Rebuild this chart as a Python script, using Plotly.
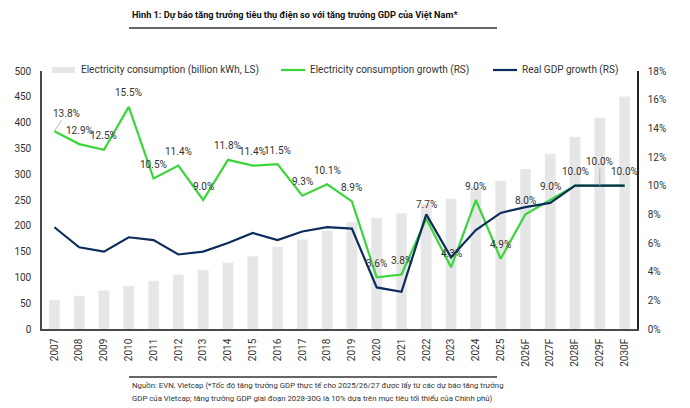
import plotly.graph_objects as go

years = ["2007", "2008", "2009", "2010", "2011", "2012", "2013", "2014", "2015", "2016",
         "2017", "2018", "2019", "2020", "2021", "2022", "2023", "2024", "2025",
         "2026F", "2027F", "2028F", "2029F", "2030F"]
consumption = [56, 64, 74, 83, 93, 105, 114, 128, 141, 159,
               173, 190, 207, 215, 224, 242, 252, 275, 287,
               310, 339, 372, 409, 450]
elec_growth = [13.8, 12.9, 12.5, 15.5, 10.5, 11.4, 9.0, 11.8, 11.4, 11.5,
               9.3, 10.1, 8.9, 3.6, 3.8, 7.7, 4.3, 9.0, 4.9,
               8.0, 9.0, 10.0, 10.0, 10.0]
gdp_growth = [7.1, 5.7, 5.4, 6.4, 6.2, 5.2, 5.4, 6.0, 6.7, 6.2,
              6.8, 7.1, 7.0, 2.9, 2.6, 8.0, 5.0, 6.9, 8.1,
              8.5, 8.8, 10.0, 10.0, 10.0]

title_text = "Hình 1: Dự báo tăng trưởng tiêu thụ điện so với tăng trưởng GDP của Việt Nam*"
footer_1 = "Nguồn: EVN, Vietcap (*Tốc độ tăng trưởng GDP thực tế cho 2025/26/27 được lấy từ các dự báo tăng trưởng"
footer_2 = "GDP của Vietcap; tăng trưởng GDP giai đoạn 2028-30G là 10% dựa trên mục tiêu tối thiểu của Chính phủ)"
legend_names = ["Electricity consumption (billion kWh, LS)",
                "Electricity consumption growth (RS)",
                "Real GDP growth (RS)"]

BAR_C = "#e6e6e6"
GREEN = "#3ad63a"
NAVY = "#0c2c5c"
AXIS_C = "#4a4a4a"
TXT = "#333333"
FONT = "Roboto"

W, H = 690, 408
L, R, T, B = 42, 53, 71, 79
PW, PH = W - L - R, H - T - B


def px(x):
    return (x - L) / PW


def py(y):
    return (H - B - y) / PH


fig = go.Figure()
fig.add_trace(go.Bar(x=years, y=consumption, marker_color=BAR_C, name=legend_names[0],
                     yaxis="y", showlegend=False))
fig.add_trace(go.Scatter(x=years, y=elec_growth, mode="lines", line=dict(color=GREEN, width=2.2),
                         name=legend_names[1], yaxis="y2", showlegend=False))
fig.add_trace(go.Scatter(x=years, y=gdp_growth, mode="lines", line=dict(color=NAVY, width=2.2),
                         name=legend_names[2], yaxis="y2", showlegend=False))

annotations = []
for i, (yr, v) in enumerate(zip(years, elec_growth)):
    a = dict(x=i, y=v, xref="x", yref="y2", text=f"{v:.1f}%",
             font=dict(family=FONT, size=10, color=TXT))
    if i == 0:
        a.update(showarrow=True, ax=12, ay=-18, arrowhead=0, arrowwidth=0.8,
                 arrowcolor="#aaaaaa", standoff=0, startstandoff=0)
    elif yr == "2029F":
        a.update(showarrow=True, ax=0, ay=-24, arrowhead=0, arrowwidth=0.8,
                 arrowcolor="#aaaaaa", standoff=0)
    else:
        a.update(showarrow=False, yshift=14)
    annotations.append(a)

# title and footer
annotations.append(dict(x=px(130), y=py(14), xref="paper", yref="paper", text="<b>" + title_text + "</b>",
                        showarrow=False, xanchor="left", yanchor="middle",
                        font=dict(family=FONT, size=9.2, color="#111111")))
annotations.append(dict(x=px(130), y=py(385), xref="paper", yref="paper", text=footer_1,
                        showarrow=False, xanchor="left", yanchor="middle",
                        font=dict(family=FONT, size=7.8, color=TXT)))
annotations.append(dict(x=px(130), y=py(398), xref="paper", yref="paper", text=footer_2,
                        showarrow=False, xanchor="left", yanchor="middle",
                        font=dict(family=FONT, size=7.8, color=TXT)))

shapes = [
    dict(type="line", xref="paper", yref="paper", x0=px(129), x1=px(497), y0=py(28), y1=py(28),
         line=dict(color="#333333", width=1.5)),
    dict(type="line", xref="paper", yref="paper", x0=px(129), x1=px(497), y0=py(377), y1=py(377),
         line=dict(color="#333333", width=1.5)),
]

# custom legend
leg_y = 70
leg_items = [
    (52, 75, 79, "bar", BAR_C),
    (281, 305, 308, "line", GREEN),
    (493, 517, 520, "line", NAVY),
]
for (sx0, sx1, tx, kind, col), name in zip(leg_items, legend_names):
    if kind == "bar":
        shapes.append(dict(type="rect", xref="paper", yref="paper", x0=px(sx0), x1=px(sx1),
                           y0=py(leg_y + 3), y1=py(leg_y - 3), fillcolor=col, line=dict(width=0)))
    else:
        shapes.append(dict(type="line", xref="paper", yref="paper", x0=px(sx0), x1=px(sx1),
                           y0=py(leg_y), y1=py(leg_y), line=dict(color=col, width=2.2)))
    annotations.append(dict(x=px(tx), y=py(leg_y), xref="paper", yref="paper", text=name,
                            showarrow=False, xanchor="left", yanchor="middle",
                            font=dict(family=FONT, size=10, color=TXT)))

fig.update_layout(
    width=W, height=H,
    margin=dict(l=L, r=R, t=T, b=B, autoexpand=False),
    paper_bgcolor="white", plot_bgcolor="white",
    bargap=0.58,
    showlegend=False,
    font=dict(family=FONT, size=10, color=TXT),
    xaxis=dict(type="category", range=[-0.5, len(years) - 0.5], showline=True, linecolor=AXIS_C,
               linewidth=1.5, showgrid=False, ticks="", tickangle=-90, ticklabelstandoff=4,
               tickfont=dict(size=10, color=TXT)),
    yaxis=dict(range=[0, 500], dtick=50, showline=True, linecolor=AXIS_C, linewidth=1.5,
               showgrid=False, zeroline=False, ticks="", ticklabelstandoff=7,
               tickfont=dict(size=10, color=TXT)),
    yaxis2=dict(range=[0, 18], dtick=2, ticksuffix="%", overlaying="y", side="right",
                showline=True, linecolor="#222222", linewidth=1.5, showgrid=False, zeroline=False,
                ticks="", ticklabelstandoff=7, tickfont=dict(size=10, color=TXT)),
    annotations=annotations,
    shapes=shapes,
)

fig.write_html("out.html")
